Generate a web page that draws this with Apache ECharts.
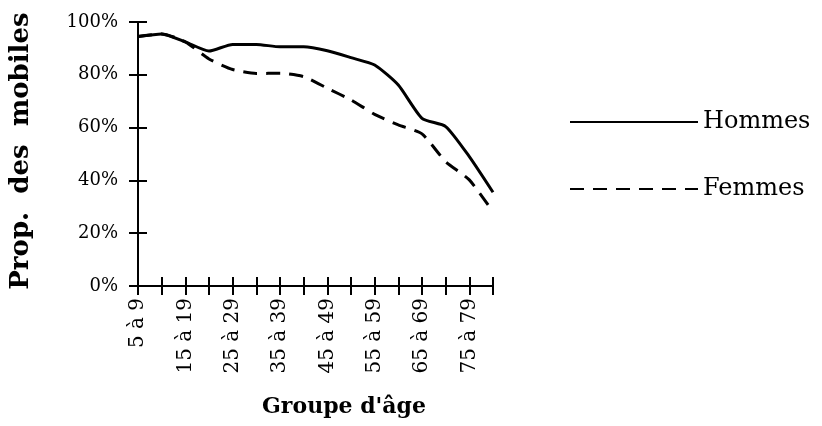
<!DOCTYPE html>
<html><head><meta charset="utf-8">
<script src="https://cdn.jsdelivr.net/npm/echarts@6/dist/echarts.min.js"></script>
<style>html,body{margin:0;padding:0;background:#fff}#c{width:822px;height:426px}</style>
</head><body><div id="c"></div>
<script>
const categories = ['5 à 9','10 à 14','15 à 19','20 à 24','25 à 29','30 à 34','35 à 39','40 à 44','45 à 49','50 à 54','55 à 59','60 à 64','65 à 69','70 à 74','75 à 79','80 à 84'];
const hommes = [94.5, 95.5, 92.5, 89, 91.5, 91.5, 90.6, 90.6, 89.1, 86.5, 83.7, 76.1, 63.5, 60.4, 49, 35.5];
const femmes = [94.5, 95.5, 92.5, 86, 82, 80.5, 80.6, 79.3, 74.9, 70.5, 65, 61, 57.6, 47.1, 40.2, 28.1];
const seriesNames = ['Hommes', 'Femmes'];
const yAxisTitle = 'Prop.  des  mobiles';
const xAxisTitle = "Groupe d'âge";

const FONT = 'DejaVu Serif';
const chart = echarts.init(document.getElementById('c'));
function gridBox() { return {left: 138, right: 822 - 493, top: 22, bottom: 426 - 286}; }
function tickStyle() { return {color: '#000', width: 2}; }
chart.setOption({
  animation: false,
  backgroundColor: '#fff',
  // two identical grids: grid 0 carries outward ticks and labels, grid 1 the inward ticks
  grid: [gridBox(), gridBox()],
  legend: {
    orient: 'vertical', left: 564, top: 105,
    itemWidth: 128, itemHeight: 14, itemGap: 43,
    data: seriesNames,
    itemStyle: {opacity: 0},
    textStyle: {fontFamily: FONT, fontSize: 24, color: '#000', lineHeight: 24}
  },
  xAxis: [{
    gridIndex: 0, type: 'category', data: categories, boundaryGap: false,
    axisLine: {show: true, lineStyle: {color: '#000', width: 2}},
    axisTick: {show: true, interval: 0, inside: false, length: 9, lineStyle: tickStyle()},
    axisLabel: {interval: 1, rotate: 90, margin: 12, fontFamily: FONT, fontSize: 20, color: '#000'},
    splitLine: {show: false}
  }, {
    gridIndex: 1, type: 'category', data: categories, boundaryGap: false,
    axisLine: {show: true, lineStyle: {color: '#000', width: 2}},
    axisTick: {show: true, interval: 0, inside: true, length: 9, lineStyle: tickStyle()},
    axisLabel: {show: true, interval: 1, rotate: 90, margin: 12, fontFamily: FONT, fontSize: 20, color: 'rgba(0,0,0,0)'},
    splitLine: {show: false}
  }],
  yAxis: [{
    gridIndex: 0, type: 'value', min: 0, max: 100, interval: 20,
    axisLine: {show: true, lineStyle: {color: '#000', width: 2}},
    axisTick: {show: true, inside: false, length: 9, lineStyle: tickStyle()},
    axisLabel: {formatter: '{value}%', margin: 20, fontFamily: FONT, fontSize: 18, color: '#000'},
    splitLine: {show: false}
  }, {
    gridIndex: 1, type: 'value', min: 0, max: 100, interval: 20,
    axisLine: {show: true, lineStyle: {color: '#000', width: 2}},
    axisTick: {show: true, inside: true, length: 9, lineStyle: tickStyle()},
    axisLabel: {show: true, formatter: '{value}%', margin: 20, fontFamily: FONT, fontSize: 18, color: 'rgba(0,0,0,0)'},
    splitLine: {show: false}
  }],
  series: [{
    name: seriesNames[0], type: 'line', data: hommes, xAxisIndex: 0, yAxisIndex: 0,
    showSymbol: false, smooth: 0.2,
    lineStyle: {color: '#000', width: 3, type: 'solid'}, itemStyle: {color: '#000'}
  }, {
    name: seriesNames[1], type: 'line', data: femmes, xAxisIndex: 1, yAxisIndex: 1,
    showSymbol: false, smooth: 0.2,
    lineStyle: {color: '#000', width: 3, type: [14, 9]}, itemStyle: {color: '#000'}
  }],
  graphic: [{
    type: 'text', x: 21, y: 151, rotation: Math.PI / 2,
    style: {text: yAxisTitle, fontFamily: FONT, fontSize: 26, fontWeight: 'bold', fill: '#000',
            align: 'center', verticalAlign: 'middle', textAlign: 'center', textVerticalAlign: 'middle'}
  }, {
    type: 'text', x: 344, y: 407,
    style: {text: xAxisTitle, fontFamily: FONT, fontSize: 22, fontWeight: 'bold', fill: '#000',
            align: 'center', verticalAlign: 'middle', textAlign: 'center', textVerticalAlign: 'middle'}
  }]
});
</script></body></html>
